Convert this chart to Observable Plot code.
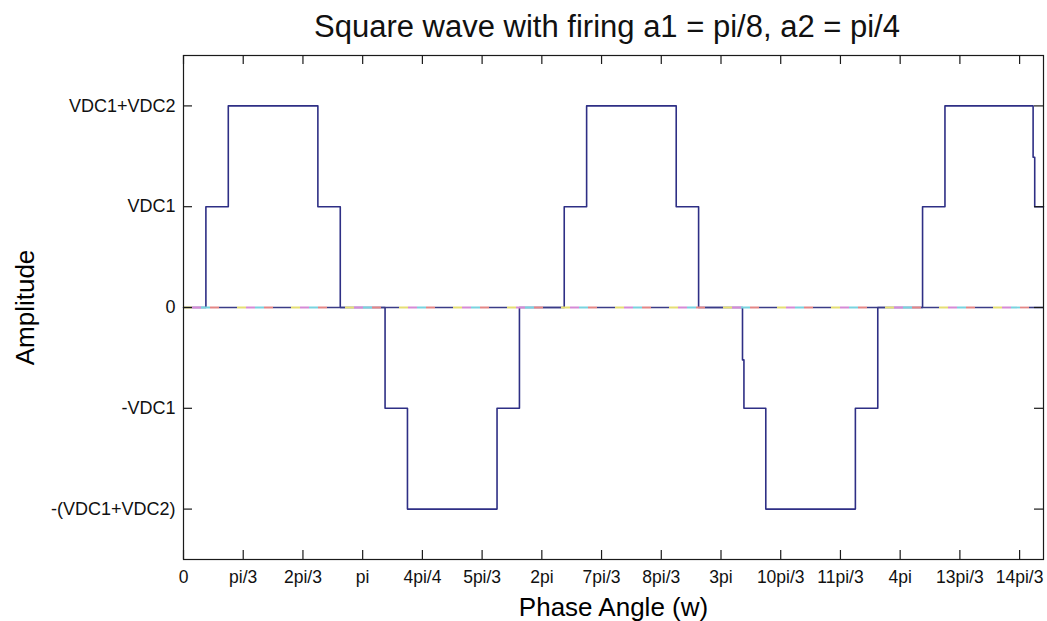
<!DOCTYPE html>
<html>
<head>
<meta charset="utf-8">
<script src="https://cdn.jsdelivr.net/npm/d3@7"></script>
<script src="https://cdn.jsdelivr.net/npm/@observablehq/plot@0.6"></script>
<style>
  html, body { margin: 0; padding: 0; background: #fff; }
  #wrap { position: relative; width: 1047px; height: 621px; font-family: "Liberation Sans", Arial, sans-serif; }
  #title { position: absolute; top: 11px; left: 207px; width: 800px; text-align: center; white-space: nowrap;
           font-size: 31px; line-height: 31px; color: #111; }
  #chart { position: absolute; top: 46px; left: 0; }
</style>
</head>
<body>
<div id="wrap">
  <div id="title">Square wave with firing a1 = pi/8, a2 = pi/4</div>
  <div id="chart"></div>
</div>
<script>
// Waveform vertices: phase in units of pi, amplitude in units of VDC1 (VDC1+VDC2 = 2)
const phasePi = [
  0, 0.125, 0.125, 0.25, 0.25, 0.75, 0.75, 0.875, 0.875,
  1.125, 1.125, 1.25, 1.25, 1.75, 1.75, 1.875, 1.875,
  2.125, 2.125, 2.25, 2.25, 2.75, 2.75, 2.875, 2.875,
  3.12, 3.12, 3.128, 3.128, 3.25, 3.25, 3.75, 3.75, 3.875, 3.875,
  4.125, 4.125, 4.25, 4.25, 4.742, 4.742, 4.751, 4.751, 4.8
];
const amplitude = [
  0, 0, 1, 1, 2, 2, 1, 1, 0,
  0, -1, -1, -2, -2, -1, -1, 0,
  0, 1, 1, 2, 2, 1, 1, 0,
  0, -0.52, -0.52, -1, -1, -2, -2, -1, -1, 0,
  0, 1, 1, 2, 2, 1.49, 1.49, 1, 1
];

// Axis ticks
const xTickThirds = [0,1,2,3,4,5,6,7,8,9,10,11,12,13,14];
const xTickLabels = ["0","pi/3","2pi/3","pi","4pi/4","5pi/3","2pi","7pi/3","8pi/3","3pi","10pi/3","11pi/3","4pi","13pi/3","14pi/3"];
const yTickValues = [-2, -1, 0, 1, 2];
const yTickLabels = ["-(VDC1+VDC2)", "-VDC1", "0", "VDC1", "VDC1+VDC2"];
const xDomainPi = [0, 4.8];
const yDomain = [-2.5, 2.5];

// Overlapping zero-valued series (drawn as coloured dashes on the zero line)
const zeroSeriesColors = ["#e6df74", "#d58ad6", "#78d3df", "#e38686"];
const zeroBaseColor = "#3b3c86";

const waveData = phasePi.map((p, i) => ({x: p * Math.PI, y: amplitude[i]}));
const xTicks = xTickThirds.map(k => k * Math.PI / 3);
const xLabelMap = new Map(xTicks.map((v, i) => [v, xTickLabels[i]]));
const yLabelMap = new Map(yTickValues.map((v, i) => [v, yTickLabels[i]]));

const W = 1047, H = 575, mL = 183, mR = 4, mT = 9, mB = 62;
const frameW = W - mL - mR, frameH = H - mT - mB;
const tickLen = 9;
const axisColor = "#1a1a1a";

const chart = Plot.plot({
  width: W, height: H,
  marginLeft: mL, marginRight: mR, marginTop: mT, marginBottom: mB,
  style: {fontFamily: "'Liberation Sans', Arial, sans-serif", background: "#fff", color: "#111"},
  x: {domain: xDomainPi.map(d => d * Math.PI)},
  y: {domain: yDomain},
  marks: [
    Plot.line(waveData, {x: "x", y: "y", stroke: "#2e2f85", strokeWidth: 1.6, curve: "linear"}),
    Plot.ruleY([0], {stroke: zeroBaseColor, strokeWidth: 1.6, strokeDasharray: "18 36", strokeDashoffset: -36}),
    ...zeroSeriesColors.map((c, i) =>
      Plot.ruleY([0], {stroke: c, strokeWidth: 1.8, strokeDasharray: "9 45", strokeDashoffset: -i * 9})
    ),
    Plot.frame({stroke: axisColor, strokeWidth: 1.2}),
    // inward ticks on all four sides
    Plot.tickX(xTicks, {x: d => d, insetTop: frameH - tickLen, stroke: axisColor, strokeWidth: 1.2}),
    Plot.tickX(xTicks, {x: d => d, insetBottom: frameH - tickLen, stroke: axisColor, strokeWidth: 1.2}),
    Plot.tickY(yTickValues, {y: d => d, insetRight: frameW - tickLen, stroke: axisColor, strokeWidth: 1.2}),
    Plot.tickY(yTickValues, {y: d => d, insetLeft: frameW - tickLen, stroke: axisColor, strokeWidth: 1.2}),
    Plot.axisX(xTicks, {anchor: "bottom", tickSize: 0, tickPadding: 11, fontSize: 17.5,
      tickFormat: d => xLabelMap.get(d), label: null, fill: "#111"}),
    Plot.axisY(yTickValues, {anchor: "left", tickSize: 0, tickPadding: 8, fontSize: 18,
      tickFormat: d => yLabelMap.get(d), label: null, fill: "#111"}),
    Plot.text(["Phase Angle (w)"], {frameAnchor: "bottom", dy: 48, fontSize: 26, fill: "#000",
      textAnchor: "middle", lineAnchor: "middle"}),
    Plot.text(["Amplitude"], {frameAnchor: "left", dx: -158, rotate: -90, fontSize: 26, fill: "#000",
      textAnchor: "middle", lineAnchor: "middle"})
  ]
});
document.getElementById("chart").appendChild(chart);
</script>
</body>
</html>
